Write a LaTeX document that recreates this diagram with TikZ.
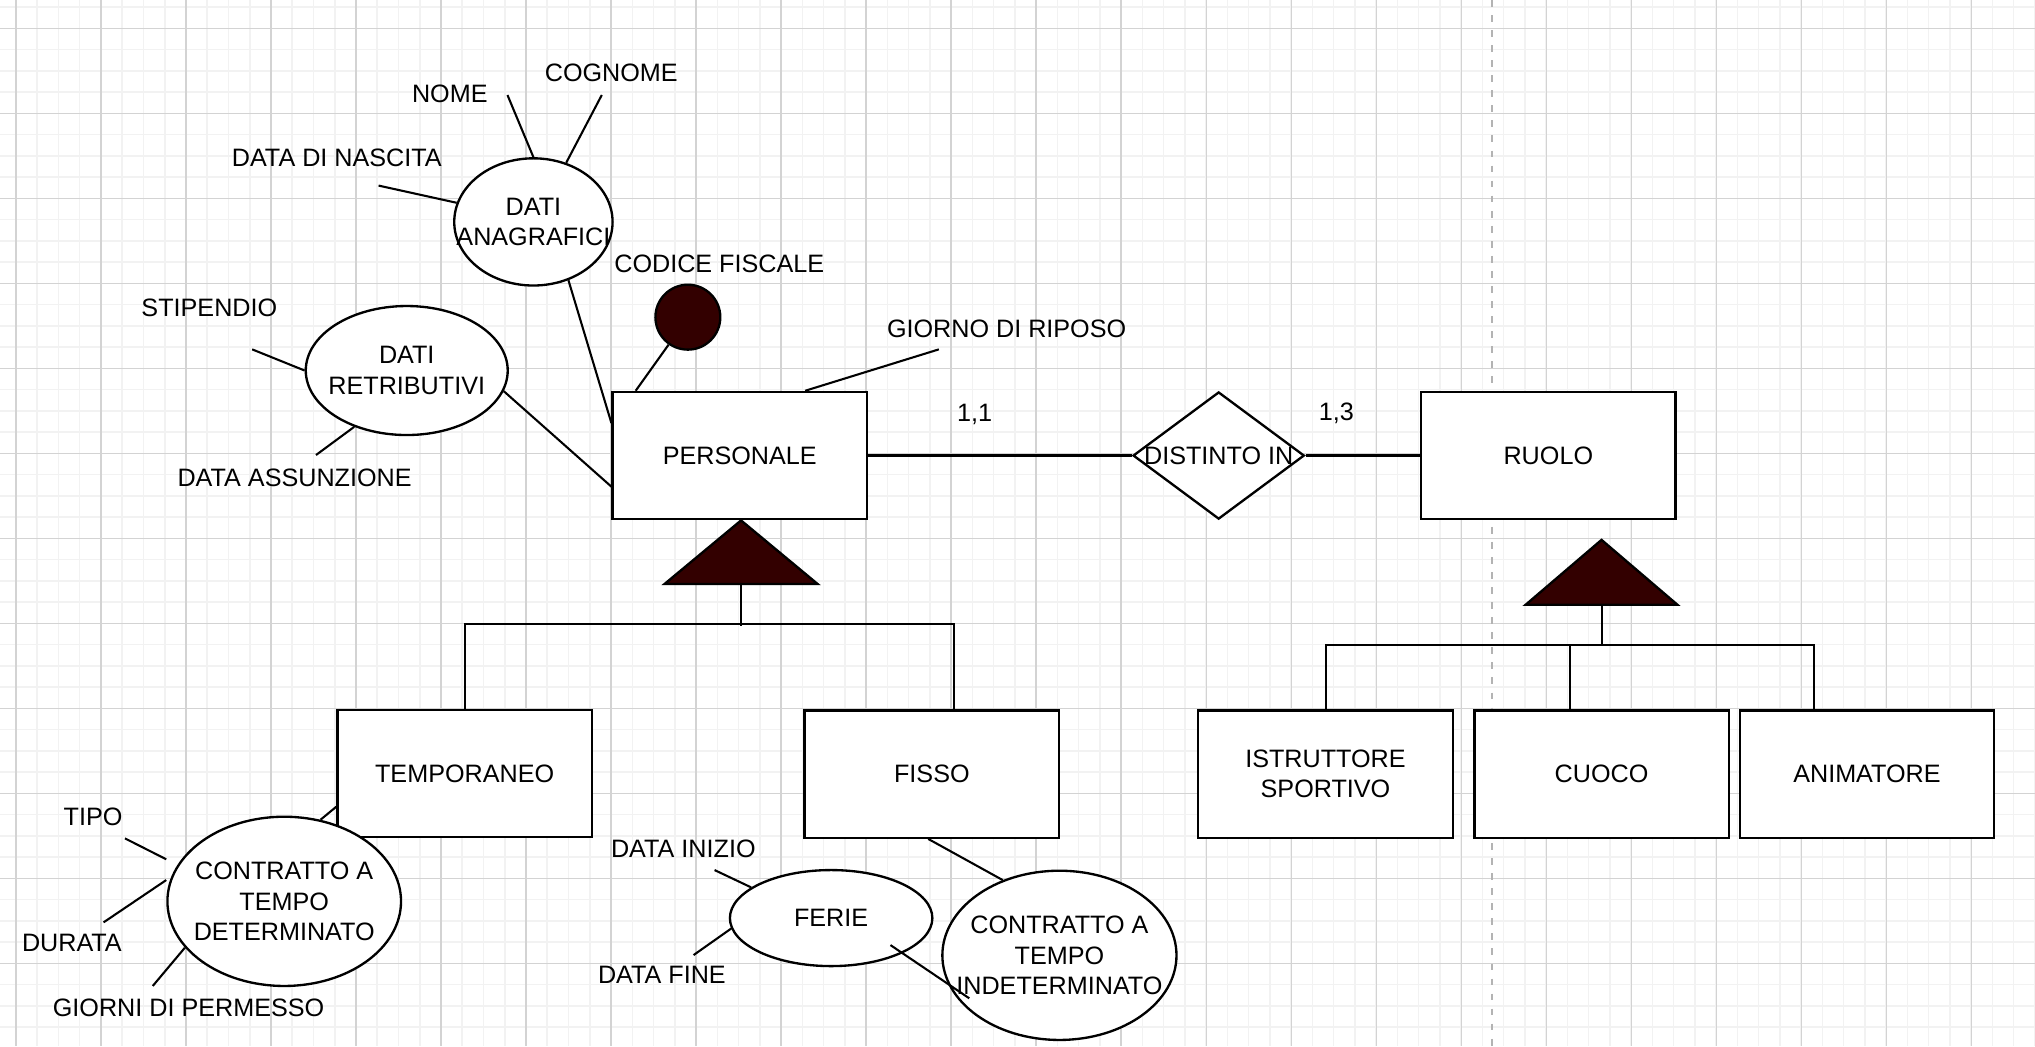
\documentclass[tikz,border=0pt]{standalone}
\usepackage{fontspec}
\setmainfont{Liberation Sans}
\usetikzlibrary{shapes.geometric,calc}
\definecolor{isafill}{HTML}{330000}
\definecolor{majorgridc}{HTML}{D3D3D3}
\definecolor{minorgridc}{HTML}{F2F2F2}
\definecolor{pagebreakc}{HTML}{B3B3B3}
\begin{document}
\begin{tikzpicture}[x=0.5pt,y=-0.5pt,
  every node/.style={font=\fontsize{9.7}{11.65}\selectfont, text=black},
  entity/.style={draw, line width=0.9pt, fill=white, minimum width=98pt, minimum height=49pt, inner sep=0pt, align=center},
  attr/.style={draw, ellipse, line width=0.9pt, fill=white, inner sep=0pt},
  rel/.style={draw, diamond, line width=0.9pt, fill=white, inner sep=0pt, minimum width=66pt, minimum height=49pt},
  keyattr/.style={draw, circle, line width=0.9pt, fill=isafill, inner sep=0pt, minimum size=25pt},
  isa/.style={draw, line width=0.9pt, fill=isafill, line join=miter},
  conn/.style={line width=0.8pt},
  lbl/.style={inner sep=0pt, align=center},
  minorline/.style={draw=minorgridc, line width=0.6pt},
  majorline/.style={draw=majorgridc, line width=0.45pt},
]
\path[use as bounding box] (0,0) rectangle (1568,806);
\fill[white] (0,0) rectangle (1568,806);
\begin{scope}
\clip (0,0) rectangle (1568,806);
\foreach \i in {-1,...,96} \draw[minorline] ({12.3+16.375*\i},0) -- ({12.3+16.375*\i},806);
\foreach \j in {-2,...,48} \draw[minorline] (0,{21.8+16.375*\j}) -- (1568,{21.8+16.375*\j});
\foreach \i in {0,...,23} \draw[majorline] ({12.3+65.5*\i},0) -- ({12.3+65.5*\i},806);
\foreach \j in {0,...,11} \draw[majorline] (0,{21.8+65.5*\j}) -- (1568,{21.8+65.5*\j});
\draw[draw=pagebreakc, line width=0.8pt, dash pattern=on 2.6pt off 3.2pt] (1149.4,0) -- (1149.4,806);
\end{scope}

% entities
\node[entity] (pers) at (570,351) {PERSONALE};
\node[entity] (ruolo) at (1193,351) {RUOLO};
\node[entity] (temp) at (358,596) {TEMPORANEO};
\node[entity] (fisso) at (718,596.5) {FISSO};
\node[entity] (istr) at (1021.3,596.5) {ISTRUTTORE\\SPORTIVO};
\node[entity] (cuoco) at (1234,596.5) {CUOCO};
\node[entity] (anim) at (1438.5,596.5) {ANIMATORE};

% relationship
\node[rel] (dist) at (939,351) {};

% attributes
\node[attr, minimum width=61pt, minimum height=49pt] (da) at (411,171) {};
\node[attr, minimum width=77.8pt, minimum height=49.7pt] (dr) at (313.4,285.5) {};
\node[attr, minimum width=90pt, minimum height=65.2pt] (cd) at (219,694.5) {};
\node[attr, minimum width=78pt, minimum height=37pt] (fe) at (640.4,707.4) {};
\node[attr, minimum width=90.2pt, minimum height=65.2pt] (ci) at (816.3,736.1) {};
\node[keyattr] (cf) at (530,244.4) {};

% ISA triangles
\draw[isa] (571,401) -- (630,450) -- (512,450) -- cycle;
\coordinate (isa1) at (571,450);
\draw[isa] (1234,416) -- (1292.5,466) -- (1175.5,466) -- cycle;
\coordinate (isa2) at (1234,466);

% relationship connectors
\draw[conn] (pers.east) -- (dist.west);
\draw[conn] (dist.east) -- (ruolo.west);

% ISA connectors
\draw[conn] (isa1) -- ++(0,32);
\draw[conn] (temp.north) -- ++(0,-65) -| ([xshift=8.5pt]fisso.north);
\draw[conn] (isa2) -- ++(0,32);
\draw[conn] ([xshift=0.2pt]istr.north) -- ++(0,-49.5) -| ([xshift=-20.55pt]anim.north);
\draw[conn] ([xshift=-12.2pt]cuoco.north) -- ++(0,-49.5);

% attribute connectors
\coordinate (nome-e) at (391,73.2);
\coordinate (cogn-e) at (463.7,73.2);
\coordinate (nasc-e) at (291.7,143);
\draw[conn] (da.90) -- (nome-e);
\draw[conn] (da.61.5) -- (cogn-e);
\draw[conn] (da.166.9) -- (nasc-e);
\draw[conn] (da.-59.3) -- ([yshift=12.5pt]pers.west);

\coordinate (stip-e) at (194.3,269.2);
\coordinate (ass-e) at (243.5,350.6);
\draw[conn] (dr.west) -- (stip-e);
\draw[conn] (dr.-133) -- (ass-e);
\draw[conn] (dr.-12) -- ([yshift=-12pt]pers.west);

\draw[conn] (cf.-125.7) -- ([xshift=-40.1pt]pers.north);
\coordinate (rip-e) at (723.4,269.2);
\draw[conn] ([xshift=25.2pt]pers.north) -- (rip-e);

\draw[conn] (cd.66.1) -- ([yshift=-12.8pt]temp.west);
\coordinate (tipo-e) at (96.3,646);
\coordinate (dur-e) at (79.8,710.7);
\coordinate (perm-e) at (117.7,759.7);
\draw[conn] ([yshift=16.2pt]cd.west) -- (tipo-e);
\draw[conn] ([yshift=8.2pt]cd.west) -- (dur-e);
\draw[conn] (cd.-155.4) -- (perm-e);

\coordinate (ini-e) at (550.6,670.4);
\coordinate (fine-e) at (534.4,735.9);
\draw[conn] (fe.159.3) -- (ini-e);
\draw[conn] (fe.-174.1) -- (fine-e);
\draw[conn] ($(fe.center)+(45.7,20.8)$) -- ($(ci.center)+(-69.5,33.1)$);
\draw[conn] ([xshift=-1.4pt]fisso.south) -- (ci.127.5);

% texts inside shapes
\node[lbl] (dist-t) at (dist) {DISTINTO IN};
\node[lbl] (da-t) at (da) {DATI\\ANAGRAFICI};
\node[lbl] (dr-t) at (dr) {DATI\\RETRIBUTIVI};
\node[lbl] (cd-t) at (cd) {CONTRATTO A\\TEMPO\\DETERMINATO};
\node[lbl] (fe-t) at (fe) {FERIE};
\node[lbl] (ci-t) at (ci) {CONTRATTO A\\TEMPO\\INDETERMINATO};

% free labels
\node[lbl] (nome) at (346.6,72.6) {NOME};
\node[lbl] (cogn) at (471,56.5) {COGNOME};
\node[lbl] (nasc) at (259.5,121.7) {DATA DI NASCITA};
\node[lbl] (cfl) at (554.2,203.5) {CODICE FISCALE};
\node[lbl] (stip) at (161.3,237) {STIPENDIO};
\node[lbl] (ass) at (227,368) {DATA ASSUNZIONE};
\node[lbl] (rip) at (775.6,253) {GIORNO DI RIPOSO};
\node[lbl] (c11) at (751,319.5) {1,1};
\node[lbl] (c13) at (1029.6,318.5) {1,3};
\node[lbl] (tipo) at (71.7,629.4) {TIPO};
\node[lbl] (dur) at (55.4,726.8) {DURATA};
\node[lbl] (perm) at (145.3,776.5) {GIORNI DI PERMESSO};
\node[lbl] (ini) at (526.5,653.8) {DATA INIZIO};
\node[lbl] (fine) at (510,751) {DATA FINE};
\end{tikzpicture}
\end{document}
